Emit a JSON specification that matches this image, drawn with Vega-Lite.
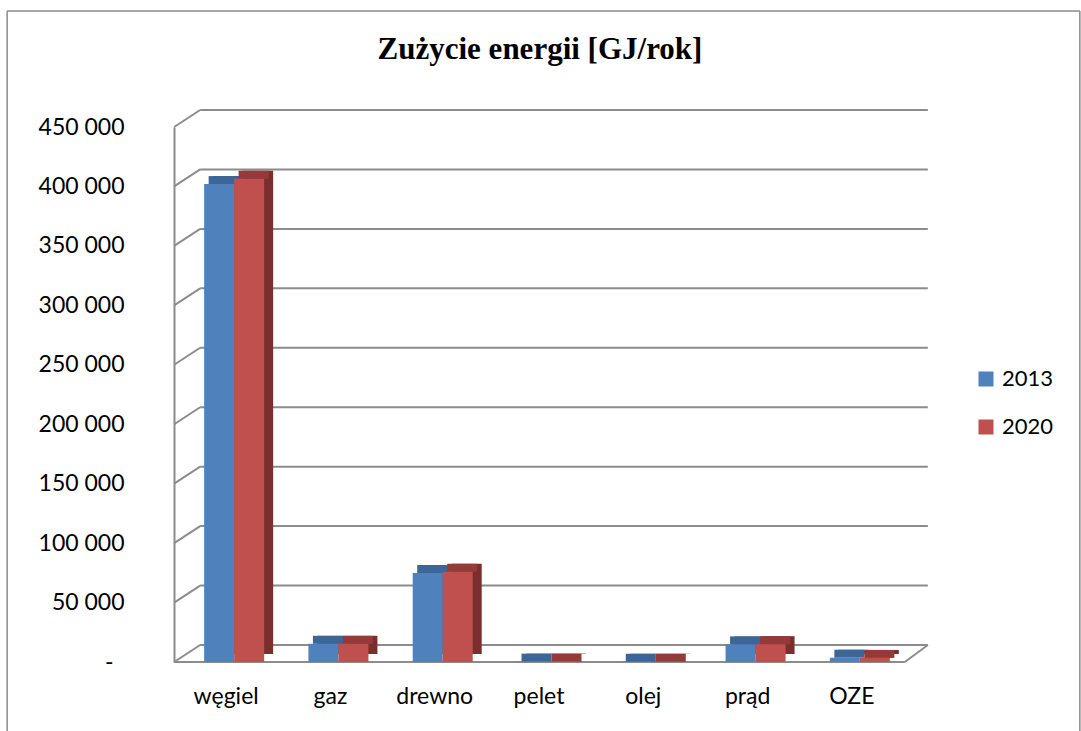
{
  "$schema": "https://vega.github.io/schema/vega-lite/v6.json",
  "width": 730,
  "height": 535,
  "autosize": {"type": "none"},
  "padding": {"left": 182, "top": 127, "right": 169, "bottom": 69},
  "background": "white",
  "config": {
    "view": {"stroke": null},
    "font": "Lato",
    "locale": {"number": {"decimal": ",", "thousands": " ", "grouping": [3], "currency": ["", " zł"]}}
  },
  "title": {
    "text": "Zużycie energii [GJ/rok]",
    "font": "Liberation Serif",
    "fontSize": 31,
    "fontWeight": "bold",
    "color": "black",
    "anchor": "middle",
    "frame": "group",
    "baseline": "alphabetic",
    "offset": -80,
    "dx": -7
  },
  "encoding": {
    "y": {
      "field": "value", "type": "quantitative",
      "scale": {"domain": [0, 450000], "nice": false},
      "axis": {
        "title": null, "values": [0, 50000, 100000, 150000, 200000, 250000, 300000, 350000, 400000, 450000],
        "format": ",d",
        "labelExpr": "datum.value === 0 ? '-' : datum.label",
        "labelPadding": {"condition": {"test": "datum.value === 0", "value": 61}, "value": 50},
        "ticks": false, "offset": 8, "grid": false,
        "domainColor": "#8c8c8c", "domainWidth": 2,
        "labelFontSize": 23, "labelFont": "Lato", "labelColor": "black"
      }
    }
  },
  "layer": [
    {
      "data": {"values": [{"value": 450000}]},
      "layer": [
        {
          "mark": {"type": "rule", "color": "#8a8a8a", "strokeWidth": 1.5, "xOffset": -227, "x2Offset": 220, "yOffset": -116, "y2Offset": -116},
          "encoding": {
            "x": {"datum": "węgiel"},
            "x2": {"datum": "OZE"}
          }
        },
        {
          "mark": {"type": "rule", "color": "#8a8a8a", "strokeWidth": 1.5, "xOffset": -227, "x2Offset": -227, "yOffset": -116, "y2Offset": 90},
          "encoding": {
            "x": {"datum": "węgiel"},
            "y2": {"datum": 0}
          }
        },
        {
          "mark": {"type": "rule", "color": "#8a8a8a", "strokeWidth": 1.5, "xOffset": 220, "x2Offset": 220, "yOffset": -116, "y2Offset": 90},
          "encoding": {
            "x": {"datum": "OZE"},
            "y2": {"datum": 0}
          }
        }
      ]
    },
    {
      "data": {"values": [
        {"value": 0}, {"value": 50000}, {"value": 100000}, {"value": 150000}, {"value": 200000},
        {"value": 250000}, {"value": 300000}, {"value": 350000}, {"value": 400000}, {"value": 450000}
      ]},
      "layer": [
        {
          "mark": {"type": "rule", "color": "#8c8c8c", "strokeWidth": 2, "xOffset": -34, "x2Offset": 68, "yOffset": -17, "y2Offset": -17},
          "encoding": {
            "x": {"datum": "węgiel"},
            "x2": {"datum": "OZE"}
          }
        },
        {
          "mark": {"type": "rule", "color": "#8c8c8c", "strokeWidth": 2, "xOffset": -60, "x2Offset": -34, "y2Offset": -17},
          "encoding": {
            "x": {"datum": "węgiel"},
            "x2": {"datum": "węgiel"},
            "y2": {"field": "value"}
          }
        },
        {
          "transform": [{"filter": "datum.value === 0"}],
          "mark": {"type": "rule", "color": "#8c8c8c", "strokeWidth": 2, "xOffset": 45, "x2Offset": 68, "y2Offset": -17},
          "encoding": {
            "x": {"datum": "OZE"},
            "x2": {"datum": "OZE"},
            "y2": {"field": "value"}
          }
        },
        {
          "transform": [{"filter": "datum.value === 0"}],
          "mark": {"type": "rule", "color": "#8c8c8c", "strokeWidth": 2, "xOffset": -60, "x2Offset": 45},
          "encoding": {
            "x": {"datum": "węgiel"},
            "x2": {"datum": "OZE"}
          }
        }
      ]
    },
    {
      "data": {"values": [
        {"cat": "węgiel", "year": "2013", "value": 402000},
        {"cat": "węgiel", "year": "2020", "value": 406500},
        {"cat": "gaz", "year": "2013", "value": 15300},
        {"cat": "gaz", "year": "2020", "value": 15300},
        {"cat": "drewno", "year": "2013", "value": 74800},
        {"cat": "drewno", "year": "2020", "value": 75900},
        {"cat": "pelet", "year": "2013", "value": 300},
        {"cat": "pelet", "year": "2020", "value": 300},
        {"cat": "olej", "year": "2013", "value": 200},
        {"cat": "olej", "year": "2020", "value": 200},
        {"cat": "prąd", "year": "2013", "value": 14800},
        {"cat": "prąd", "year": "2020", "value": 15000},
        {"cat": "OZE", "year": "2013", "value": 3600},
        {"cat": "OZE", "year": "2020", "value": 3400}
      ]},
      "encoding": {
        "x": {
          "field": "cat", "type": "nominal",
          "sort": ["węgiel", "gaz", "drewno", "pelet", "olej", "prąd", "OZE"],
          "scale": {"paddingInner": 0.43, "paddingOuter": 0.215},
          "axis": {
            "title": null, "ticks": false, "labelAngle": 0, "labelAlign": "center", "labelPadding": 34, "domain": false,
            "labelFontSize": 23, "labelFont": "Lato",
            "labelOffset": -8, "labelColor": "black", "grid": false
          }
        }
      },
      "layer": [
        {
          "transform": [{"filter": "datum.year === '2013'"}],
          "mark": {"type": "bar", "width": 30, "xOffset": -6, "yOffset": -8, "y2Offset": -8, "color": "#3a6391"}
        },
        {
          "transform": [{"filter": "datum.year === '2013'"}],
          "mark": {"type": "tick", "thickness": 8, "size": 30, "opacity": 1, "xOffset": -10.5, "yOffset": -4, "color": "#3c6697"}
        },
        {
          "transform": [{"filter": "datum.year === '2013'"}],
          "mark": {"type": "bar", "width": 30, "xOffset": -15},
          "encoding": {
            "color": {
              "field": "year", "type": "nominal",
              "scale": {"domain": ["2013", "2020"], "range": ["#4f81bd", "#c0504d"]},
              "legend": {
                "title": null, "orient": "none", "legendX": 793, "legendY": 241,
                "symbolType": "square", "symbolSize": 225, "symbolStrokeWidth": 0,
                "labelFontSize": 22, "labelFont": "Lato", "labelColor": "black",
                "rowPadding": 26, "labelOffset": 5
              }
            }
          }
        },
        {
          "transform": [{"filter": "datum.year === '2020'"}],
          "mark": {"type": "bar", "width": 30, "xOffset": 24, "yOffset": -8, "y2Offset": -8, "color": "#7b2f2d"}
        },
        {
          "transform": [{"filter": "datum.year === '2020'"}],
          "mark": {"type": "tick", "thickness": 8, "size": 30, "opacity": 1, "xOffset": 19.5, "yOffset": -4, "color": "#943b39"}
        },
        {
          "transform": [{"filter": "datum.year === '2020'"}],
          "mark": {"type": "bar", "width": 30, "xOffset": 15},
          "encoding": {
            "color": {"field": "year", "type": "nominal"}
          }
        }
      ]
    }
  ]
}
